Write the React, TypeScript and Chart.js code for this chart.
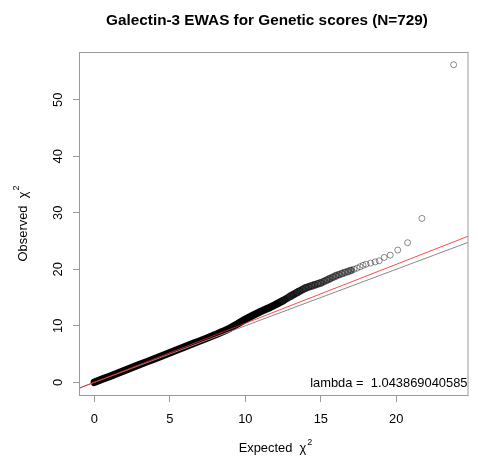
import { useEffect, useRef } from "react";
import { Chart, registerables } from "chart.js";

Chart.register(...registerables);

// ---- data ----
const titleText = "Galectin-3 EWAS for Genetic scores (N=729)";
const xAxisTitle = "Expected";
const yAxisTitle = "Observed";
const chiSymbol = "\u03c7";
const lambdaValue = 1.043869040585;
const lambdaLabel = "lambda =  1.043869040585";
const xTicks = [0, 5, 10, 15, 20];
const yTicks = [0, 10, 20, 30, 40, 50];

// dense body of the Q-Q curve (solid band)
const bodyExpected = [
  0, 0.5, 1, 1.5, 2, 2.5, 3, 3.5, 4, 4.5, 5, 5.5, 6, 6.5, 7, 7.5, 8, 8.5, 9, 9.5,
  10, 10.5, 11, 11.5, 12, 12.5, 13, 13.5, 14, 14.5, 15, 15.5, 16, 16.5, 17,
];
const bodyObserved = [
  0, 0.52, 1.04, 1.57, 2.09, 2.61, 3.13, 3.66, 4.18, 4.71, 5.23, 5.76, 6.28, 6.81, 7.33, 7.86, 8.4, 8.98, 9.6, 10.35,
  11.15, 11.85, 12.5, 13.1, 13.75, 14.45, 15.25, 16.0, 16.7, 17.15, 17.6, 18.2, 18.85, 19.35, 19.8,
];

// upper tail: individual circles
const tailExpected = [
  13.2, 13.4, 13.6, 13.8, 14.0, 14.2, 14.4, 14.6, 14.8, 15.0, 15.2, 15.4, 15.6, 15.8, 16.0, 16.2, 16.4, 16.6, 16.8,
  17.0, 17.2, 17.4, 17.6, 17.8, 18.0, 18.3, 18.6, 18.87, 19.2, 19.6, 20.1, 20.75, 21.7, 23.8,
];
const tailObserved = [
  15.55, 15.85, 16.15, 16.45, 16.7, 16.9, 17.1, 17.25, 17.45, 17.6, 17.85, 18.1, 18.35, 18.6, 18.85, 19.05, 19.25,
  19.45, 19.6, 19.8, 20.0, 20.2, 20.45, 20.7, 20.9, 21.1, 21.3, 21.5, 22.1, 22.5, 23.4, 24.7, 29.0, 56.2,
];

const FONT = "'Liberation Sans', Arial, Helvetica, sans-serif";
const TEXT_SIZE = 12.9;

function extendRange(values: number[]) {
  const lo = Math.min(...values);
  const hi = Math.max(...values);
  const pad = (hi - lo) * 0.04;
  return [lo - pad, hi + pad];
}

function bandShade(x: number) {
  if (x < 12.5) return "#000000";
  if (x < 13) return "#111111";
  if (x < 13.5) return "#1e1e1e";
  if (x < 14) return "#2c2c2c";
  if (x < 14.5) return "#3a3a3a";
  if (x < 15) return "#484848";
  if (x < 15.5) return "#565656";
  if (x < 16) return "#646464";
  if (x < 16.5) return "#747474";
  return "#868686";
}

const rStylePlugin = {
  id: "rStyle",
  afterDraw(chart: any) {
    const { ctx, chartArea: a, scales } = chart;
    const ys = scales.y;
    ctx.save();
    // box
    ctx.strokeStyle = "#9a9a9a";
    ctx.lineWidth = 1;
    ctx.strokeRect(Math.round(a.left) - 0.5, Math.round(a.top) + 0.5, Math.round(a.right - a.left) + 0.5, Math.round(a.bottom - a.top));

    ctx.fillStyle = "#000";
    // main title
    ctx.font = `bold 15.3px ${FONT}`;
    ctx.textAlign = "center";
    ctx.textBaseline = "alphabetic";
    ctx.fillText(titleText, (a.left + a.right) / 2 - 7, 25.3);

    // y tick labels, rotated like R
    ctx.font = `${TEXT_SIZE}px ${FONT}`;
    for (const v of yTicks) {
      const py = ys.getPixelForValue(v);
      ctx.save();
      ctx.translate(a.left - 18.5, py);
      ctx.rotate(-Math.PI / 2);
      ctx.fillText(String(v), 0, 0);
      ctx.restore();
    }

    const drawAxisTitle = (label: string) => {
      ctx.font = `${TEXT_SIZE}px ${FONT}`;
      const main = label + "  " + chiSymbol;
      const wMain = ctx.measureText(main).width;
      ctx.font = `9px ${FONT}`;
      const wSup = ctx.measureText("2").width;
      const start = -(wMain + wSup + 1) / 2;
      ctx.font = `${TEXT_SIZE}px ${FONT}`;
      ctx.textAlign = "left";
      ctx.fillText(main, start, 0);
      ctx.font = `9px ${FONT}`;
      ctx.fillText("2", start + wMain + 1, -7.5);
    };

    // x axis title
    ctx.save();
    ctx.translate((a.left + a.right) / 2 + 1.5, 452);
    drawAxisTitle(xAxisTitle);
    ctx.restore();

    // y axis title
    ctx.save();
    ctx.translate(26.5, (a.top + a.bottom) / 2);
    ctx.rotate(-Math.PI / 2);
    drawAxisTitle(yAxisTitle);
    ctx.restore();

    // lambda annotation
    ctx.font = `${TEXT_SIZE}px ${FONT}`;
    ctx.textAlign = "right";
    ctx.textBaseline = "alphabetic";
    ctx.fillText(lambdaLabel, a.right - 0.5, ys.getPixelForValue(0) + 4.4);
    ctx.restore();
  },
};

export default function App() {
  const canvasRef = useRef<HTMLCanvasElement | null>(null);

  useEffect(() => {
    if (!canvasRef.current) return;
    const [xMin, xMax] = extendRange([...bodyExpected, ...tailExpected]);
    const [yMin, yMax] = extendRange([...bodyObserved, ...tailObserved]);

    const body = bodyExpected.map((x, i) => ({ x, y: bodyObserved[i] }));
    const tail = tailExpected.map((x, i) => ({ x, y: tailObserved[i] }));
    const identity = [
      { x: xMin, y: xMin },
      { x: xMax, y: xMax },
    ];
    const lambdaLine = [
      { x: xMin, y: xMin * lambdaValue },
      { x: xMax, y: xMax * lambdaValue },
    ];

    const chart = new Chart(canvasRef.current, {
      type: "scatter",
      data: {
        datasets: [
          {
            data: lambdaLine,
            showLine: true,
            borderColor: "rgba(255,30,30,0.8)",
            borderWidth: 1,
            pointRadius: 0,
            order: 0,
          },
          {
            data: identity,
            showLine: true,
            borderColor: "#8a8a8a",
            borderWidth: 1,
            pointRadius: 0,
            order: 1,
          },
          {
            data: tail,
            showLine: false,
            pointRadius: 3,
            pointBorderWidth: 1,
            pointBorderColor: "rgba(0,0,0,0.45)",
            pointBackgroundColor: "rgba(0,0,0,0)",
            order: 2,
          },
          {
            data: body,
            showLine: true,
            borderColor: "#000",
            borderWidth: 7.5,
            borderCapStyle: "round",
            borderJoinStyle: "round",
            pointRadius: 0,
            order: 3,
            segment: {
              borderColor: (c: any) => bandShade(c.p0.parsed.x),
            },
          } as any,
        ],
      },
      options: {
        animation: false,
        responsive: true,
        maintainAspectRatio: false,
        events: [],
        layout: { padding: { left: 0, right: 10, top: 52, bottom: 0 } },
        plugins: {
          legend: { display: false },
          tooltip: { enabled: false },
          title: { display: false },
        },
        scales: {
          x: {
            type: "linear",
            min: xMin,
            max: xMax,
            afterFit: (s: any) => {
              s.height = 66;
            },
            afterBuildTicks: (s: any) => {
              s.ticks = xTicks.map((v) => ({ value: v }));
            },
            border: { display: false },
            grid: { drawOnChartArea: false, drawTicks: true, tickLength: 7, color: "#9a9a9a", lineWidth: 1 },
            ticks: {
              color: "#000",
              font: { family: FONT, size: TEXT_SIZE },
              padding: 9.5,
              maxRotation: 0,
              callback: (v: any) => String(v),
            },
          },
          y: {
            type: "linear",
            min: yMin,
            max: yMax,
            afterFit: (s: any) => {
              s.width = 80;
            },
            afterBuildTicks: (s: any) => {
              s.ticks = yTicks.map((v) => ({ value: v }));
            },
            border: { display: false },
            grid: { drawOnChartArea: false, drawTicks: true, tickLength: 7, color: "#9a9a9a", lineWidth: 1 },
            ticks: { display: false },
          },
        },
      },
      plugins: [rStylePlugin],
    } as any);

    return () => chart.destroy();
  }, []);

  return (
    <div style={{ position: "absolute", left: 0, top: 0, width: 478, height: 461, background: "#fff" }}>
      <canvas ref={canvasRef} />
    </div>
  );
}
